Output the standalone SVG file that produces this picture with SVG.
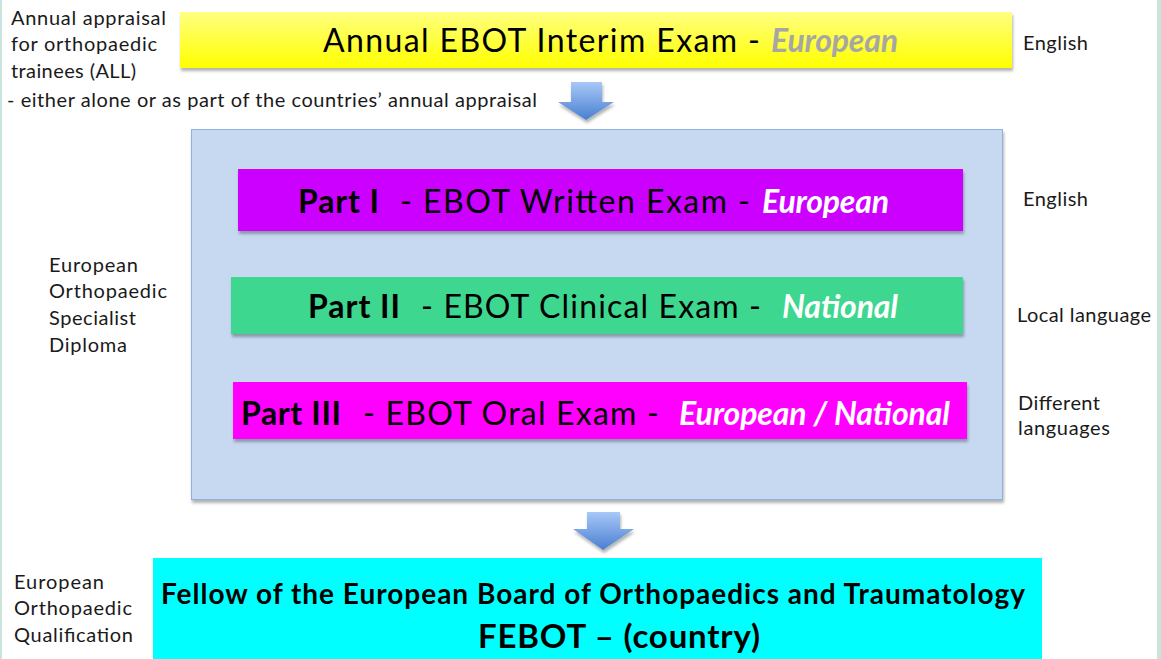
<svg xmlns="http://www.w3.org/2000/svg" width="1161" height="659" viewBox="0 0 1161 659">
<style>
.lbl{font-family:Lato,"Liberation Sans",sans-serif;font-size:20px;fill:#1a1a1a}
.big{font-family:Lato,"Liberation Sans",sans-serif;font-size:32px;fill:#000}
.b{font-weight:bold}
.bi{font-weight:bold;font-style:italic}
.w{fill:#fff}
</style>
<defs>
<linearGradient id="gy" x1="0" y1="0" x2="0" y2="1">
<stop offset="0" stop-color="#ffff80"/>
<stop offset="1" stop-color="#ffff00"/>
</linearGradient>
<linearGradient id="ga" x1="0" y1="0" x2="0" y2="1">
<stop offset="0" stop-color="#a7c8f8"/>
<stop offset="1" stop-color="#4a7fd0"/>
</linearGradient>
<filter id="sh" x="-5%" y="-20%" width="110%" height="150%">
<feDropShadow dx="1" dy="3" stdDeviation="1.5" flood-color="#000" flood-opacity="0.3"/>
</filter>
</defs>
<rect width="1161" height="659" fill="#fff"/>
<rect x="0" y="0" width="2" height="659" fill="#c8e4dc"/>
<rect x="1157" y="0" width="4" height="659" fill="#c8e4dc"/>

<g id="notes">
<text class="lbl" x="11" y="25" textLength="155">Annual appraisal</text>
<text class="lbl" x="11" y="51" textLength="146">for orthopaedic</text>
<text class="lbl" x="11" y="78" textLength="125">trainees (ALL)</text>
<text class="lbl" x="7" y="107" textLength="530">- either alone or as part of the countries’ annual appraisal</text>
<text class="lbl" x="1023" y="50" textLength="65">English</text>
<text class="lbl" x="49" y="272" textLength="89">European</text>
<text class="lbl" x="49" y="298" textLength="118">Orthopaedic</text>
<text class="lbl" x="49" y="325" textLength="87">Specialist</text>
<text class="lbl" x="49" y="352" textLength="78">Diploma</text>
<text class="lbl" x="1023" y="206" textLength="65">English</text>
<text class="lbl" x="1017" y="322" textLength="134">Local language</text>
<text class="lbl" x="1018" y="410" textLength="82">Different</text>
<text class="lbl" x="1018" y="435" textLength="92">languages</text>
<text class="lbl" x="14" y="589" textLength="90">European</text>
<text class="lbl" x="14" y="615" textLength="118">Orthopaedic</text>
<text class="lbl" x="14" y="642" textLength="119">Qualification</text>
</g>

<g id="interim">
<rect x="180" y="12" width="832" height="56" fill="url(#gy)" filter="url(#sh)"/>
<text class="big" x="323" y="52" textLength="437">Annual EBOT Interim Exam -</text>
<text class="big bi" x="771" y="52" textLength="127" style="fill:#a6a6a6">European</text>
</g>

<g id="connectors">
<path d="M571,82 H602 V102 H614 L586,120 L558,102 H571 Z" fill="url(#ga)" filter="url(#sh)"/>
<path d="M587,512 H620 V529 H634 L603,550 L573,529 H587 Z" fill="url(#ga)" filter="url(#sh)"/>
</g>

<g id="diploma">
<rect x="191.5" y="129.5" width="811" height="370" fill="#c6d9f1" stroke="#8db3e2" stroke-width="1" filter="url(#sh)"/>
</g>

<g id="part1">
<rect x="238" y="169" width="725" height="62" fill="#cc00ff" filter="url(#sh)"/>
<text class="big b" x="298" y="213" textLength="81">Part I</text>
<text class="big" x="400" y="213" textLength="350">- EBOT Written Exam  -</text>
<text class="big bi w" x="762" y="213" textLength="127">European</text>
</g>

<g id="part2">
<rect x="231" y="277" width="732" height="57" fill="#3cd78f" filter="url(#sh)"/>
<text class="big b" x="308" y="318" textLength="92">Part II</text>
<text class="big" x="421" y="318" textLength="340">- EBOT Clinical Exam  -</text>
<text class="big bi w" x="782" y="318" textLength="116">National</text>
</g>

<g id="part3">
<rect x="233" y="382" width="734" height="57" fill="#ff00ff" filter="url(#sh)"/>
<text class="big b" x="241" y="425" textLength="100">Part III</text>
<text class="big" x="363" y="425" textLength="296">- EBOT Oral Exam  -</text>
<text class="big bi w" x="679" y="425" textLength="271">European / National</text>
</g>

<g id="febot">
<rect x="153" y="558" width="889" height="110" fill="#00ffff"/>
<text class="b" x="161" y="604" textLength="864" style="font-family:Lato,'Liberation Sans',sans-serif;font-size:28px;fill:#000">Fellow of the European Board of Orthopaedics and Traumatology</text>
<text class="b" x="478" y="648" textLength="282" style="font-family:Lato,'Liberation Sans',sans-serif;font-size:33px;fill:#000">FEBOT – (country)</text>
</g>
</svg>
